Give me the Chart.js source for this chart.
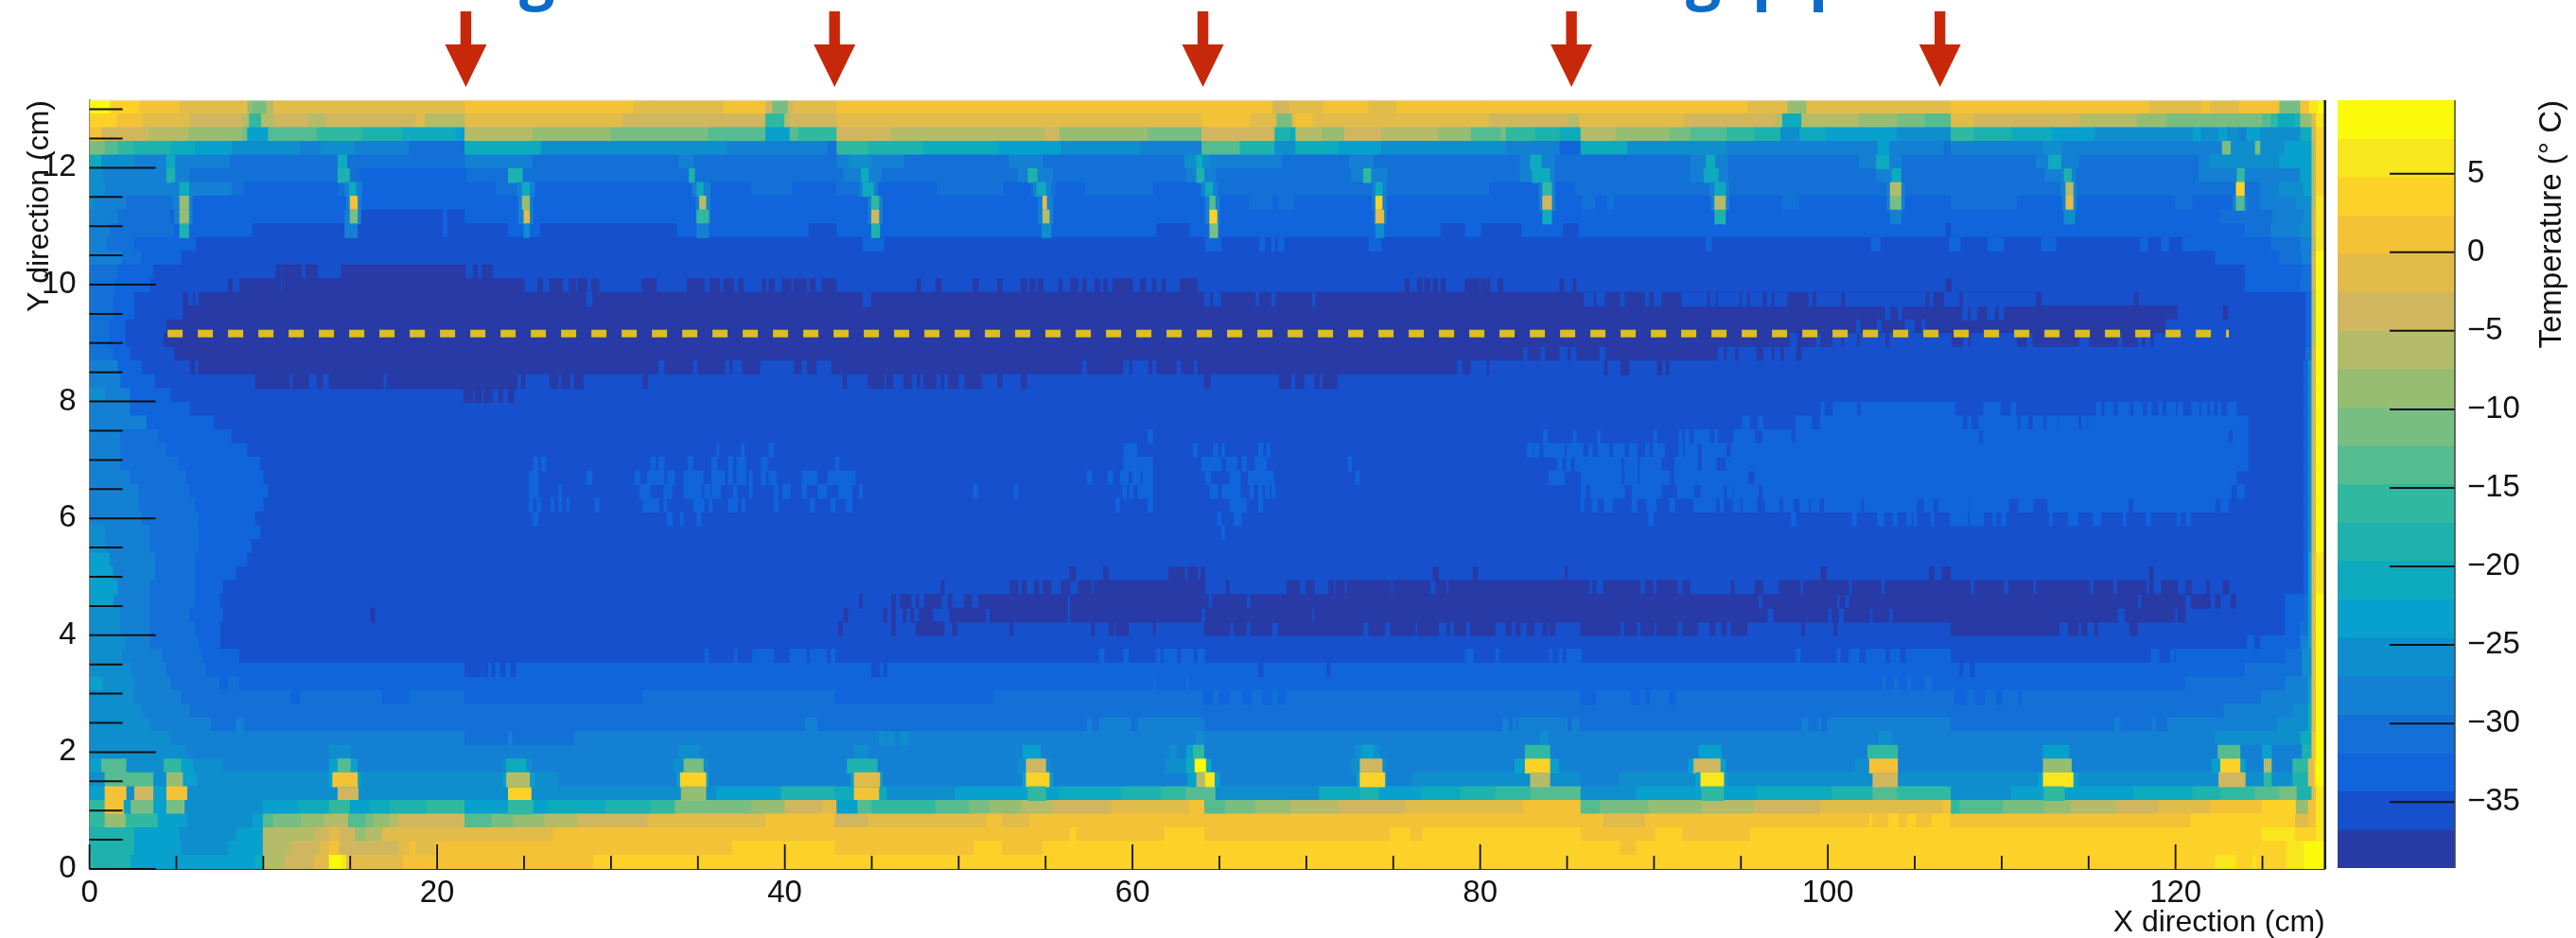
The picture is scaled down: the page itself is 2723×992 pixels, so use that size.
<!DOCTYPE html>
<html>
<head>
<meta charset="utf-8">
<title>Temperature map</title>
<script src="https://cdn.jsdelivr.net/npm/chart.js@4/dist/chart.umd.min.js"></script>
<style>
	html, body { margin: 0; background: #fff; }
	canvas { position: absolute; top: 0; filter: blur(0.7px); }
	#mapChart { left: 0; }
	#barChart { left: 2471px; }
</style>
</head>
<body>
<canvas id="mapChart" width="2723" height="992"></canvas>
<canvas id="barChart" width="252" height="992"></canvas>
<script>
// --- DONNEES --- //
const xMax = 128.6;
const yMax = 13.155;
const rowCount = 56;
const xTicks = [0,5,10,15,20,25,30,35,40,45,50,55,60,65,70,75,80,85,90,95,100,105,110,115,120,125];
const xLabels = [0,20,40,60,80,100,120];
const yTicks = [0,0.5,1,1.5,2,2.5,3,3.5,4,4.5,5,5.5,6,6.5,7,7.5,8,8.5,9,9.5,10,10.5,11,11.5,12,12.5,13];
const yLabels = [0,2,4,6,8,10,12];
const zTicks = [-35,-30,-25,-20,-15,-10,-5,0,5];
const arrowX = [21.65, 42.86, 64.05, 85.25, 106.45];
const pipeLineX = [4.49, 123.07];
const pipeLineY = 9.163;

// limites des 20 niveaux de temperature
const bandEdges = [-39.2,-36.75,-34.3,-31.87,-29.42,-26.97,-24.53,-22.08,-19.64,-17.2,-14.75,-12.3,-9.87,-7.42,-4.98,-2.53,-0.09,2.35,4.8,7.24,9.68];
const bandColors = ['#283AA5','#1650CD','#1064DC','#1270D7','#1480D4','#0E8ECD','#08A0CD','#0EAABE','#1EB2AF','#30B9A0','#55BC91','#78BE82','#96BE73','#B4BC69','#D0B75F','#E1BC4B','#F3C237','#FDD228','#F8E61E','#FAFA0A'];

// une ligne par rangee, du haut vers le bas : "x:niveau" = debut de chaque plage
const baseRows = [
"0:19 1.2:17 2.9:16 5.2:15 9.1:12 9.4:11 10.2:13 10.6:15 21.6:16 31.3:15 36.5:16 38.9:14 39.3:11 40.2:14 40.5:15 43:16 68.1:14 69:15 71:16 73.6:15 75.2:16 95.4:15 97.7:12 98.8:15 107.1:16 118.5:15 121.5:16 122:15 123.7:16 126:11 127.2:16 127.7:18 128.2:19",
"0:17 1.6:16 3.1:15 5.8:14 8.8:13 9.2:9 9.9:13 10.6:14 12.6:13 13.6:14 18.8:15 19.3:13 21.6:15 30.7:14 38.9:9 40:13 40.3:14 43:15 64:16 66.8:15 68.3:11 69.2:15 69.4:16 70.4:15 80.5:14 85.1:13 85.7:15 91.8:14 97:13 97.4:7 98.5:13 101.8:12 104:11 105.6:10 107.1:15 108.4:14 114.5:13 117.8:12 119.5:11 125:10 125.5:9 125.9:7 126.9:8 127.2:12 127.85:15 128.1:18",
"0:16 0.7:14 3.4:13 5.7:12 8.8:11 9.1:6 10.3:10 13.1:9 15.7:8 18:7 21.1:6 21.6:13 25.5:12 30:11 35.6:10 38.9:6 40.3:10 40.8:9 43:14 46.1:13 55:14 55.8:12 60.9:11 64:14 68.2:8 69.1:7 69.4:13 70.9:12 72.2:14 74.3:13 77.6:12 79.5:10 81.2:11 81.5:9 83.2:8 84.6:7 85.8:13 87.8:12 90.9:11 92.1:10 94.2:9 95.8:8 97.3:5 98.4:7 99.9:6 104:5 107.1:9 108.4:8 110.6:7 112.9:6 115.4:5 121:6 121.5:5 122.5:6 123:5 123.7:4 124.1:6 124.9:5 127.2:7 127.85:14 128.1:17",
"0:11 0.9:10 1.65:9 2.6:8 4.7:7 6.1:6 8.2:5 12.1:4 13.3:5 15.3:4 18.4:3 21.6:7 26:5 36.7:4 42.5:3 43:9 44.8:8 48:7 52.3:6 55.9:5 60.5:4 64:10 66.2:8 68.2:5 69.4:7 71.9:6 74.3:5 81.5:4 84.6:2 85.8:7 88.5:5 94.2:4 102.9:6 103.5:4 106.7:3 107.1:4 112.4:5 113.5:4 122.7:11 123.2:5 124.6:11 124.9:5 126.3:6 127.85:13 128.1:17",
"0:7 0.7:5 2.6:4 8.1:3 21.6:4 25.5:3 33.9:4 34.8:3 43:4 43.7:5 45:4 46.9:3 52.9:4 54.9:3 63:5 64.5:4 68.6:3 72.5:4 73.9:3 82.3:4 84.3:3 92.1:4 94.3:3 101.8:4 104.3:3 112:4 114.5:3 121.35:4 122:5 126:6 127.85:13 128.1:17",
"0:5 0.8:4 5.8:3 15.6:2 21.7:3 43.4:4 45.6:3 53.4:4 55.45:3 63.1:4 64.8:3 72.6:4 74.7:3 82.3:4 84.3:3 92.1:4 94.3:3 102.8:4 104.2:3 112.5:4 114.3:3 121.35:4 127.2:6 127.85:13 128.1:17",
"0:5 0.9:4 8.2:3 8.95:2 14.3:3 15.75:2 23.4:3 25.35:2 38.1:3 40.45:2 43:3 45.45:2 48.75:3 52.6:2 54.2:3 55.6:2 57.3:3 61.2:2 63.9:3 80.55:2 85.5:3 124.9:4 126:5 127.4:6 127.85:13 128.1:17",
"0:5 0.3:4 2.15:3 4.8:4 5.8:2 66.7:3 68.1:2 68.4:3 69.35:2 85.9:3 86.65:2 87.3:3 87.75:2 97.4:3 98.4:2 107.1:3 110.9:2 120:3 121:2 123.95:3 124.9:4 126.95:5 127.85:13 128.1:18",
"0:4 1.65:3 4.7:2 15.6:1 20.35:2 20.6:1 21.6:2 122.6:3 125.6:4 127.4:5 127.85:14 128.1:18",
"0:4 1.2:3 4.9:2 9.4:1 20.35:2 20.6:1 24.1:2 25.95:1 33.8:2 41.4:1 43:2 61.4:1 63.3:2 77.75:1 79.15:2 80.1:1 82.4:2 84.8:1 85.7:2 106.8:1 107.1:2 124:3 125.5:4 127.2:5 127.85:14 128.1:18",
"0:4 1:3 2.6:2 6.15:1 121:2 125.5:3 127.2:4 127.85:13 128.1:18",
"0:4 1.9:3 3:2 5.3:1 122.3:2 126:3 127.3:4 127.85:14 128.1:19",
"0:3 1.65:2 3.7:1 124:2 127.3:3 127.85:14 128.1:19",
"0:3 1.5:2 3.5:1 124:2 127.2:3 127.85:14 128.1:19",
"0:3 1.4:2 2.6:1 5.4:0 5.7:1 6:0 6.1:1 6.3:0 112:1 127.5:2 127.85:13 128.1:19",
"0:3 1.4:2 2.6:1 5.4:0 120.15:1 122.75:0 123.05:1 127.5:2 127.85:13 128.1:19",
"0:3 1.15:2 2.1:1 4.45:0 119.45:1 127.5:2 127.85:13 128.1:19",
"0:3 1.2:2 2.1:1 4.3:0 118.75:1 127.5:2 127.85:13 128.1:19",
"0:3 1.4:2 2.4:1 4.9:0 98.5:1 127.5:3 127.85:14 128.1:19",
"0:4 1.65:2 3.05:1 5.8:0 6.1:1 6.3:0 80.55:1 127.4:2 127.65:5 127.85:14 128.1:19",
"0:4 1.8:2 3.8:1 127.4:2 127.65:5 127.85:14 128.1:19",
"0:5 0.9:4 2.35:2 4.7:1 127.4:2 127.65:5 127.85:14 128.1:19",
"0:4 2.35:2 5.8:1 127.4:2 127.65:5 127.85:14 128.1:19",
"0:4 3.3:2 7.2:1 127.4:2 127.65:5 127.85:14 128.1:19",
"0:4 1.8:3 4:2 8.2:1 127.4:2 127.65:5 127.85:14 128.1:19",
"0:4 1.8:3 4.45:2 9.1:1 127.4:2 127.65:5 127.85:14 128.1:19",
"0:4 1.8:3 5.15:2 9.85:1 127.4:2 127.65:5 127.85:14 128.1:19",
"0:4 2.35:3 5.6:2 10.05:1 127.4:2 127.65:5 127.85:14 128.1:19",
"0:4 2.85:3 5.8:2 10.3:1 127.4:2 127.65:5 127.85:14 128.1:19",
"0:4 2.85:3 6.1:2 10.05:1 127.4:2 127.65:5 127.85:14 128.1:19",
"0:4 3.05:3 6.3:2 9.55:1 127.4:2 127.65:5 127.85:14 128.1:19",
"0:5 0.9:4 3.5:3 6.3:2 9.85:1 127.4:2 127.65:5 127.85:14 128.1:19",
"0:5 1:4 3.5:3 6.3:2 9.35:1 127.4:2 127.65:5 127.85:14 128.1:19",
"0:6 1.2:4 3.8:3 6.1:2 9.1:1 127.4:2 127.65:6 127.85:15 128.1:18",
"0:6 1.4:4 3.8:3 6.1:2 8.45:1 127.4:2 127.65:6 127.85:15 128.1:18",
"0:6 1.65:4 3.5:3 6.1:2 7.7:1 127.4:2 127.65:6 127.85:15 128.1:18",
"0:6 1.4:4 3.5:3 6.1:2 7.55:1 126.3:2 127.4:3 127.65:6 127.85:15 128.1:19",
"0:5 1.8:4 3.5:3 5.8:2 7.7:1 126.3:2 127.4:3 127.65:6 127.85:15 128.1:19",
"0:5 1.8:4 3.5:3 6.1:2 7.55:1 126.3:2 127.2:3 127.65:6 127.85:15 128.1:19",
"0:5 2.1:4 3.5:3 6.3:2 7.55:1 124.15:2 124.5:1 124.9:2 127.2:4 127.65:6 127.85:15 128.1:19",
"0:5 1.9:4 4.2:3 6.5:2 8.65:1 120:2 126.3:3 127.3:5 127.85:15 128.1:19",
"0:5 2.4:4 4.45:3 6.75:2 124:3 127.3:5 127.85:15 128.1:19",
"0:6 0.8:5 2.6:4 4.7:3 7.5:2 8:3 8.65:2 120.55:3 126.3:4 127.65:6 127.85:15 128.1:19",
"0:5 2.6:4 5.3:3 11.6:2 12.15:3 16.85:2 18.4:3 21.6:2 31.8:3 42.9:2 52:3 124.95:4 127.65:6 127.85:15 128.1:19",
"0:5 3:4 5.8:3 122.8:4 126.8:5 127.65:7 127.85:15 128.1:19",
"0:5 3.5:4 7:3 8.45:4 8.9:3 119.55:4 125.85:5 127.65:7 127.85:15 128.1:19",
"0:5 4.7:4 21.6:3 24.1:4 24.35:3 27.9:4 122.3:5 127.2:7 127.85:16 128.1:19",
"0:5 5.65:4 127.3:8 127.85:16 128.1:19",
"0:6 0.7:10 2.15:5 4.3:9 5.3:6 6:5 7.7:4 126.75:9 127.65:15 128:17 128.1:19",
"0:5 0.9:10 3.7:5 4.45:12 5.4:6 6.2:5 27:4 76.1:5 85.8:4 88:5 126.75:8 127.65:15 128:17 128.1:19",
"0:6 0.9:16 2.15:5 2.6:14 3.7:6 4.45:16 5.65:5 14.3:14 15.5:5 24.1:17 25.45:5 36.1:6 39.8:8 42.9:7 44:16 45.45:7 45.9:5 49.8:6 55.8:7 59.35:8 61.65:9 63.1:10 64.8:5 70.75:7 73.1:8 74.2:6 76.6:7 78.9:8 80.9:9 82.9:10 85.8:5 89:6 95.9:7 100.25:8 102.6:10 104:9 107.1:5 110.55:6 117.6:7 121:8 122.6:9 124.6:10 126:11 127:8 127.85:15 128.1:18",
"0:9 0.9:16 2:6 2.4:11 3.7:6 4.45:11 5.5:5 10:6 12:7 13.8:9 15:6 16.1:7 17.3:8 19.4:9 21.6:6 26.4:7 29.7:8 32.3:9 33.7:11 38.1:12 40:14 42.2:15 43:6 44.2:10 45:9 48.7:10 50.6:11 51.8:12 53.6:13 55.45:14 58.8:15 63.3:16 64.15:10 65.35:11 67.1:12 69.1:13 71.9:14 75.7:15 82.5:16 85.8:10 86.9:11 89.7:12 92.75:13 95.8:14 99.6:15 106.65:16 107.1:9 107.6:10 110.1:11 112.45:12 114:13 116.65:14 119.05:15 122:16 125:17 126.95:12 127.65:16 128.1:18",
"0:9 0.9:12 2.1:9 3.95:6 5.65:5 9.4:6 10:10 10.6:11 12.2:12 13.55:13 14.9:10 15.9:11 16.4:12 17.3:13 17.8:14 21.6:10 23.15:11 24.4:12 26.2:13 28.1:14 32.15:15 38.9:16 42.9:14 44.8:15 51.6:16 52.5:15 54.1:16 87.1:15 89.5:16 102.4:17 102.6:16 103.5:17 104.1:16 104.6:17 105.1:16 106:17 107.05:16 120.9:17 126.9:15 127.65:16 128.1:18",
"0:8 2.6:6 5.2:5 8.45:6 10:13 13:14 13.8:15 14.4:14 15.3:12 15.9:13 16.85:15 26.7:16 56.4:17 56.8:16 61.85:17 64.15:16 74.85:17 76:16 76.7:17 85.8:16 90.1:17 91.65:16 95.55:17 125:18 126.9:17 128.1:18",
"0:8 2.6:6 5.3:5 8:6 10:13 11.6:14 13.3:15 13.8:16 14.4:14 17.8:15 18.4:16 18.8:15 19.9:16 37:17 42.9:16 50.9:17 52.5:16 54.85:17 88.05:16 89:17 126.4:18 127.4:19",
"0:9 0.2:8 2.4:6 9.55:7 10:13 11.25:14 12.95:15 13.8:19 14.5:18 14.8:15 18.05:16 29:17 122.3:18 123.5:17 124.45:18 124.65:17 126.4:18 127.4:19"
];

// plages fines posees par dessus : [rangee, niveau, "debut-fin ..."]
const bandZeroStripes = [
[12,0,"10.75-11 11.1-11.65 11.6-12.2 12.45-13.1 14.5-21.6 22.1-22.3 22.6-22.8 22.9-23.15"],
[13,0,"8-8.2 8.65-11 11.1-25 25.8-26.05 26.5-27.2 27.6-27.95 28.1-28.6 28.9-29.3 31.8-32.6 34.4-35.35 35.7-36.25 36.5-37.05 37.35-37.6 38.7-38.9 39.1-39.4 39.85-40.35 40.5-41.25 41.45-41.75 42.15-42.95 47.6-47.8 48.7-49 50.85-51.1 52.25-52.5 53.6-53.9 54.1-54.4 54.55-54.85 55.75-55.95 56.45-56.85 57.15-57.35 57.85-58.1 58.35-58.55 58.85-60 60.45-60.75 61.15-61.35 61.7-61.9 62.75-63.7 75.7-75.9 76.4-76.65 76.8-77.1 77.3-77.55 77.75-78 79.15-79.95 80.05-80.55 81.05-81.3 84.6-84.8 85.35-85.5 106.8-107.1"],
[14,1,"28.6-28.9 44.5-44.95 64.15-64.45 64.65-65.05 67.1-67.25 68-68.2 70.35-70.5 86-86.5 86.7-87.15 88.05-88.3 89.5-89.7 90-90.4 91.6-93.05 93.25-93.55 93.7-94.9 95.05-95.35 95.55-96.25 96.5-96.75 96.95-97.65 98.9-99.1 99.35-100.75 101-105.6 105.85-106.05 106.7-107.55 107.8-112"],
[14,0,"112-112.25 117.65-117.85"],
[15,1,"103.3-103.55 104.05-104.25 107.75-108.05 108.25-108.6 109.2-109.6 109.85-110.1"],
[16,1,"101.65-101.85 102.85-103.05 104.45-104.95 105.4-105.6"],
[17,1,"97.85-98.2 99.35-99.55 100.3-100.75 100.95-101.65 101.85-103.3 103.55-107.1 107.8-108.05 108.25-110.85 111.45-111.75 114.5-115 116.7-116.9 117.85-118.05 118.3-118.55"],
[18,1,"82.5-82.7 83.5-83.7 84.6-85 85.25-85.5 86.9-87.2 93.7-94 94.2-94.65 94.9-95.85 96.3-96.75 96.95-97.25 97.5-98.15"],
[19,1,"32.75-33.05 34.75-34.95 36.6-36.8 37-37.5 38.6-40.5 41-41.25 41.85-42.65 57.15-57.35 59.5-59.8 60-60.9 61.15-61.35 62.55-62.75 63.55-63.7 78.7-78.95 79.45-80.35"],
[19,0,"87.15-87.3 88.1-88.55 90.2-90.45 90.7-90.85"],
[20,0,"9.55-11.5 11.7-12.6 13.1-13.4 13.8-16.9 17.1-24.6 24.85-25.05 26.5-26.95 27.15-27.6 27.9-28.4 31.85-32.1 43.35-43.55 44.8-45.7 45.85-46.2 46.85-47.3 47.6-47.75 48-48.7 49-49.15 49.4-49.95 50.35-51.3 52.25-52.5 53.6-53.9 64.15-64.45 68.45-69.1 69.4-69.85 70.5-70.75 70.95-71.75"],
[21,0,"21.55-22.05 22.2-22.55 22.7-23.15 23.55-23.75 24.1-24.4"],
[34,0,"56.4-56.7 58.35-58.6 62.1-63 63.2-63.75 63.95-64.15 77.3-77.6 79.6-79.85 84.9-85 99.6-99.9 105.85-106.1 106.6-107.05 118.5-118.7"],
[35,0,"49-49.15 52.95-53.4 53.65-53.9 54.35-54.6 54.85-55.3 55.9-56.4 56.9-57.65 57.8-64.15 65.4-65.55 68.9-69.6 70-70.45 71.3-71.55 71.7-72.2 72.35-74.85 75-77.1 77.45-78.05 78.2-86.25 86.5-86.65 87.1-89.2 89.5-89.95 90.15-91.35 91.65-92.05 94.45-94.6 95.8-96.25 97.2-98.4 98.6-101.2 101.4-103.05 103.3-108.2 108.45-110.1 110.4-111.8 112-115.05 115.3-116.4 116.65-118.3 118.5-118.7 119.2-120.1 120.6-120.9 121.8-121.95 122.75-123.05"],
[36,0,"44.3-44.45 46.15-46.35 46.65-47.25 47.55-47.7 48.05-49 49.4-49.6 50.35-50.75 51.15-56.25 56.45-64.35 64.6-66.55 66.8-96 96.25-100.5 100.7-100.95 101.25-117.8 118.05-120.55 120.9-122 122.3-122.55 123.2-123.45"],
[37,0,"16.2-16.4 43.4-43.6 45.7-45.85 46.15-46.35 46.8-46.95 47.25-47.4 47.75-48.5 49.5-51.55 51.8-56.25 56.45-63.95 64.2-70.3 70.45-96.5 96.9-100 100.25-100.6 100.95-102.4 102.6-103.5 103.75-116.65 117.1-119.95 120.15-120.55"],
[38,0,"43.1-43.3 46.15-46.35 47.55-49.15 49.65-49.9 52.95-53.1 57.65-57.8 58.65-58.9 59.05-59.75 61.2-61.3 64.15-65.6 65.85-66.55 66.8-68 68.4-73.25 73.6-74.5 74.85-76.25 76.4-77.6 78.1-78.25 78.5-79.15 79.45-80.85 81.5-81.8 82.05-82.3 82.7-83.1 83.6-83.85 84-84.3 85.8-88.05 88.3-89 89.25-90 90.15-91.35 91.65-92.5 93.2-93.5 93.9-94.15 94.45-95.35 98.5-98.65 100.35-100.5 107.1-113.3 113.85-114.4 114.6-114.9 115.35-115.5 117.4-117.8"]
];

const lightStripes = [
[10,2,"44.5-45.7 64.2-65.1 67.3-67.6 68-68.2 68.4-68.7 73.6-74.3 93-93.3 102.5-103 107-107.6 109.2-110.1 112.3-113.1 118-118.4 119.2-119.6 120.4-121"],
[23,2,"95.1-95.5 96-96.25 98.15-99.05 99.55-107.75 108.05-108.25 108.7-110.9 111.1-111.5 111.8-112.4 112.6-113.2 113.3-114.4 114.6-114.9 115-124.15"],
[22,2,"99.6-99.8 100.3-101.65 101.9-107.3 108.95-109.9 110.55-110.8 115.45-115.7 115.95-116.4 116.7-117.35 117.6-118.1 118.4-118.6 119.05-119.2 119.5-120 120.15-120.4 120.95-121.35 121.5-121.8 122-122.2 122.45-122.6 123-123.5"],
[24,2,"60.9-61.15 83.65-83.85 85.35-85.5 86.75-86.9 90-90.15 91.45-91.6 91.8-92 92.3-93.2 93.5-93.65 94.6-95.8 96.25-97.9 98.15-108.7 108.95-123.05 123.3-124.15"],
[25,2,"36.1-36.2 37.5-37.65 39.1-39.35 59.5-60.25 63.5-63.7 64.65-64.9 65.15-65.3 67.25-67.5 67.75-67.9 82.7-83 83.1-83.4 83.65-84.85 85-85.9 86.25-86.45 86.8-87.4 87.65-88.3 88.6-89 89.5-89.7 89.95-90.6 91.45-91.65 91.8-92.5 92.75-94.15 94.45-124.15"],
[26,2,"25.55-25.8 26-26.25 32.3-32.55 32.75-33.05 34.45-34.7 35.8-36.1 36.75-37 37.25-37.75 38.65-39 42.95-43.1 59.5-61.15 64-65.1 65.4-66 66.3-66.55 67.05-67.7 72.4-72.6 84.45-84.7 84.95-85.2 85.45-88.1 88.3-89.05 89.2-90.4 91.2-92.5 92.75-93.6 94.15-124.15"],
[27,2,"25.3-25.8 28.6-28.9 31.4-31.65 32.1-33.05 33.25-33.65 34.2-35.3 35.8-36.55 36.75-37 37.25-37.75 37.95-38.1 38.65-38.9 39.1-39.5 41-41.85 42.5-44.05 57.4-57.65 58.6-58.85 59.3-59.75 60-60.45 60.6-61.15 64.2-64.5 65.6-66.2 66.65-68.1 72.85-73.05 83.95-84.85 85.8-88.1 88.3-89.05 89.2-90.9 91.2-95.4 95.8-123.5"],
[28,2,"25.3-25.8 27-27.15 31.65-32.25 33.05-33.5 34.2-35.2 35.4-35.7 35.8-36.3 37.05-37.25 37.95-38.1 39.4-39.6 39.9-40.3 41-41.25 41.9-42.4 43.1-43.85 44.3-44.45 50.85-51.1 53.2-53.4 59.45-59.65 59.85-60 60.3-61.15 64.45-64.9 65.15-66.2 66.75-66.95 67.25-67.45 67.65-67.85 68-68.2 85.8-86.05 86.35-88.3 88.75-90.4 91.35-92.3 92.7-94 94.2-94.5 94.6-96 96.25-123.2 123.55-123.95"],
[29,2,"25.3-25.5 25.75-25.95 26.55-26.7 27-27.15 27.45-27.6 29.1-29.3 31.85-32.75 33.05-33.2 34.75-35.35 35.65-35.8 36.75-37.25 37.55-37.7 39.4-39.6 41.45-41.7 42.65-42.9 43.55-43.85 59.05-59.25 60.9-61.15 65.6-66.55 67.25-67.5 85.8-85.95 86.45-86.75 87.15-87.6 88.75-89 89.6-90.1 90.9-91.2 92.3-93.55 93.8-94 94.55-94.95 95.1-95.9 96.4-97.2 97.45-98 98.4-98.9 99.05-99.5 99.8-101.9 102.1-105.1 105.55-106.05 106.35-108.1 108.2-110.4 111-111.8 112.65-117.3 117.6-122.3 122.6-123.05"],
[30,2,"25.5-25.8 33.25-33.5 34-34.15 34.95-35.15 64.9-65.1 65.85-66.25 89.7-89.95 97.9-98.15 101.4-101.65 102.85-103.2 103.75-104 104.55-104.8 104.95-105.1 105.95-106.1 107.05-108.05 108.2-108.95 109.5-109.65 110-110.25 112.75-112.9 113.85-114.4 115.25-115.7 117-117.15 118.3-118.55 120.1-120.25 120.6-120.85"],
[31,2,"65.15-65.3"],
[39,2,"124.15-124.5"],
[40,2,"35.4-35.6 37.1-37.25 38.15-39.35 40.3-41.25 41.45-42.4 42.65-42.9 58.1-58.35 59.5-59.75 61.4-61.6 61.8-62.55 62.8-63.5 63.75-64.15 79.15-79.6 80.9-81.05 84-84.1 84.55-84.7 85-85.8 98.2-98.4 100.55-100.7 101.25-101.8 102.2-103.3 103.6-104.15 104.5-107.05 118.6-119.05 119.7-119.9"],
[41,1,"21.6-22.55 22.65-22.9 23.15-23.3 23.65-23.9 24.25-24.5 45-45.45 45.7-45.85 67.25-67.5 71.2-71.35 107.6-107.75 108.2-108.4"],
[42,3,"61.2-61.3 63.1-63.2 103.15-103.35 103.8-104 104.6-104.75 105.6-106"],
[43,2,"64.1-64.6 65-65.6 66.3-66.8 67.5-68 68.4-68.8 85.8-86.65 88.7-89.2 89.5-89.75 90.9-91.2 107.3-108 108.5-109 109.7-110 111-111.1"],
[45,4,"41.2-41.85 57.4-57.65 58.1-59.9 60.3-64.1 81.3-81.6 81.9-82.05 82.2-85 85.3-85.7 98.5-98.85 99.45-99.6 100-107.05 116.5-116.8 118.7-118.85"],
[46,5,"45.45-45.75 45.9-46.3 46.7-47.1 63.7-64.1 83.5-83.85 102.9-103.7"]
];

const topSpots = [
[4,7,"4.45-4.9 14.3-14.8 63.7-64 82.9-83.5 93-93.5 102.8-103.5 112.7-113.4"],
[3,6,"102.9-103.5"],
[5,8,"4.45-4.9 14.3-14.95 24.1-24.9 34.5-34.8 54-54.5 63.7-64.1 113.6-114"],
[5,7,"44.4-44.8 83-84 92.9-93.7 103.7-104.2"],
[5,9,"73.3-73.7 123.55-123.95"],
[6,4,"4.7-5.9 14.7-15.6 24.6-25.6 34.7-35.7 44.3-45.3 54.3-55.3 64-64.9 73.8-74.6 83.4-84.3 93.2-94.3 103.4-104.4 113.4-114.3"],
[6,7,"5.2-5.7 14.95-15.3 24.9-25.3 34.95-35.3 44.5-45.1 54.5-55 64.2-64.6 74-74.35"],
[6,9,"83.6-84.1"],[6,7,"93.5-94.1"],[6,13,"103.6-104.2 113.7-114.1"],[6,17,"123.5-123.95"],
[7,4,"4.9-5.9 14.8-15.6 24.7-25.5 34.9-35.7 44.8-45.6 54.6-55.4 64.2-65 73.8-74.6 83.4-84.3 93.3-94.3 103.4-104.4 113.5-114.3 123.3-124.1"],
[7,12,"5.2-5.7"],[7,16,"15-15.4"],[7,12,"24.9-25.3"],[7,13,"35.1-35.45"],[7,9,"45-45.4"],[7,15,"54.85-55.05"],[7,10,"64.45-64.75"],[7,17,"74-74.35"],[7,14,"83.6-84.1"],[7,13,"93.5-94.1"],[7,11,"103.6-104.2"],[7,15,"113.7-114.1"],[7,10,"123.5-123.95"],
[8,4,"4.9-5.9 14.7-15.6 24.7-25.5 34.9-35.7 44.8-45.6 54.6-55.4 64.2-65 73.9-74.6"],
[8,12,"5.2-5.7"],[8,11,"15-15.4"],[8,15,"25-25.3"],[8,9,"34.95-35.6"],[8,14,"45-45.4"],[8,13,"54.85-55.2"],[8,17,"64.45-64.85"],[8,15,"74-74.45"],[8,7,"83.6-84.1"],[8,8,"93.5-94.1"],[8,4,"103.6-104.2"],[8,5,"113.6-114.2"],
[9,8,"5.2-5.7"],[9,4,"14.7-15.4 34.95-35.6"],[9,5,"25-25.3 54.8-55.3 74-74.45"],[9,8,"45-45.45"],[9,11,"64.45-64.9"]
];

const bottomSpots = [
[47,5,"13.8-15 33.9-35.1 44-44.75 62.15-62.5 72.8-74.2"],
[47,6,"53.7-54.7 63.1-64.1 73.2-73.9 92.6-93.85 112.4-113.85 125-125.5"],
[47,9,"63.5-64.1 82.6-84 102.3-104"],
[47,10,"122.45-123.7"],
[48,6,"13.8-15.4 82-84.5 92-94.1 122.1-124"],
[48,5,"23.8-25.4 33.6-35.6 53.4-55.3 61.9-63.1 72.6-74.6 101.6-102.3"],
[48,10,"14.3-15"],[48,7,"24-25.1 63.1-64.5"],[48,11,"34.2-35.3"],[48,8,"43.6-45.3"],[48,14,"53.9-55 73.1-74.35 92.3-93.8"],[48,19,"63.6-64.2"],[48,17,"82.6-84 122.6-123.7"],[48,16,"102.4-104"],[48,12,"112.4-114"],[48,13,"125.1-125.5"],
[49,6,"13.8-15.6 23.8-25.6 33.8-35.6 43.8-45.6 53.7-55.4 63.2-65 72.9-74.6 92.4-94.2 112.1-114.4"],
[49,16,"14-15.4"],[49,13,"24-25.3 63.7-64.2 82.9-84"],[49,17,"34-35.45 53.9-55.2 73.1-74.5"],[49,15,"44-45.45"],[49,18,"64.2-64.7 92.7-94 112.4-114.1"],[49,14,"102.6-104 122.5-124"],[49,9,"125.1-125.5"],
[50,12,"34.05-35.45"],[50,9,"54-55 92.75-94 112.45-113.6"],
[51,9,"24.1-25.5"]
];

// --- CONSTRUCTION DES BARRES --- //
const rowHeight = yMax / rowCount;
const rowCenter = r => yMax - (r + 0.5) * rowHeight;
const cells = [];

baseRows.forEach((line, r) => {
	const runs = line.split(' ').map(t => t.split(':').map(Number));
	runs.forEach(([from, band], i) => {
		const to = i + 1 < runs.length ? runs[i + 1][0] : xMax;
		cells.push({ x: [from, to], y: rowCenter(r), band });
	});
});

[...bandZeroStripes, ...lightStripes, ...topSpots, ...bottomSpots].forEach(([r, band, spans]) => {
	spans.split(' ').forEach(s => {
		const [from, to] = s.split('-').map(Number);
		cells.push({ x: [from, to], y: rowCenter(r), band });
	});
});

const bandBars = bandColors.map((c, i) => ({ x: 0.5, y: [bandEdges[i], bandEdges[i + 1]] }));

// --- FONCTIONS GRAPHIQUES --- //
const FONT = '"Liberation Sans", Arial, sans-serif';
const INK = '#111';

function tickLine(ctx, x1, y1, x2, y2, width, color) {
	ctx.strokeStyle = color || INK;
	ctx.lineWidth = width;
	ctx.beginPath();
	ctx.moveTo(x1, y1);
	ctx.lineTo(x2, y2);
	ctx.stroke();
}

// Graduations rentrantes (longueur differente majeure / mineure)
const mapFrame = {
	id: 'mapFrame',
	afterDatasetsDraw(chart) {
		const { ctx, chartArea: a, scales: { x, y } } = chart;
		ctx.save();
		xTicks.forEach(v => {
			const px = x.getPixelForValue(v);
			tickLine(ctx, px, a.bottom, px, a.bottom - (xLabels.includes(v) ? 26 : 14), 1.8);
		});
		yTicks.forEach(v => {
			const py = y.getPixelForValue(v);
			tickLine(ctx, a.left, py, a.left + (yLabels.includes(v) ? 70 : 35), py, 2);
		});
		tickLine(ctx, a.left, a.top, a.right, a.top, 1, '#E6E6E6');
		tickLine(ctx, a.right, a.top, a.right, a.bottom, 2.5, '#111');
		ctx.restore();
	},
	afterDraw(chart) {
		const { ctx, scales: { x } } = chart;
		ctx.save();
		// Fleches rouges au dessus du graphique
		ctx.fillStyle = '#C8280A';
		arrowX.forEach(v => {
			const px = x.getPixelForValue(v);
			ctx.beginPath();
			ctx.moveTo(px - 5.7, 12);
			ctx.lineTo(px + 5.7, 12);
			ctx.lineTo(px + 5.7, 47);
			ctx.lineTo(px + 22, 47);
			ctx.lineTo(px, 92);
			ctx.lineTo(px - 22, 47);
			ctx.lineTo(px - 5.7, 47);
			ctx.closePath();
			ctx.fill();
		});
		// Titre bleu coupe par le bord du haut : seuls les jambages restent visibles
		ctx.fillStyle = '#0B6BC8';
		ctx.font = 'bold 66px "Open Sans", sans-serif';
		ctx.textBaseline = 'alphabetic';
		ctx.fillText('g', 549, -3);
		ctx.fillText('g', 1782, -3);
		ctx.fillText('p', 1852, -3);
		ctx.fillText('p', 1912, -3);
		ctx.restore();
	}
};

const barFrame = {
	id: 'barFrame',
	afterDatasetsDraw(chart) {
		const { ctx, chartArea: a, scales: { y } } = chart;
		ctx.save();
		zTicks.forEach(v => {
			const py = y.getPixelForValue(v);
			tickLine(ctx, a.right - 69, py, a.right, py, 2);
		});
		tickLine(ctx, a.right, a.top, a.right, a.bottom, 1.5, '#444');
		// Titre de l'echelle, lu de bas en haut
		ctx.translate(a.right + 103, a.top);
		ctx.rotate(-Math.PI / 2);
		ctx.fillStyle = INK;
		ctx.font = '33px ' + FONT;
		ctx.textAlign = 'right';
		ctx.textBaseline = 'middle';
		ctx.fillText('Temperature (\u00B0 C)', 0, 0);
		ctx.restore();
	}
};

const initCharts = () => {
	// Carte de temperature
	new Chart(document.getElementById('mapChart'), {
		type: 'bar',
		data: {
			datasets: [
				{
					type: 'line',
					data: pipeLineX.map(x => ({ x, y: pipeLineY })),
					borderColor: '#DFBD1F',
					borderWidth: 8,
					borderDash: [16, 16],
					borderCapStyle: 'butt',
					pointRadius: 0,
					order: 0
				},
				{
					type: 'bar',
					indexAxis: 'y',
					data: cells,
					backgroundColor: cells.map(c => bandColors[c.band]),
					barThickness: 14.52,
					borderWidth: 0,
					inflateAmount: 0.5,
					order: 1
				}
			]
		},
		options: {
			responsive: false,
			animation: false,
			events: [],
			layout: { padding: { top: 106, right: 265.3 } },
			plugins: { legend: false, tooltip: false },
			scales: {
				x: {
					type: 'linear',
					offset: false,
					min: 0,
					max: xMax,
					afterBuildTicks: s => { s.ticks = xTicks.map(value => ({ value })); },
					afterFit: s => { s.height = 73; },
					grid: { offset: false, drawOnChartArea: false, drawTicks: false },
					border: { color: '#333', width: 2 },
					ticks: {
						autoSkip: false,
						maxRotation: 0,
						padding: 6,
						color: INK,
						font: { family: FONT, size: 33 },
						callback: v => (xLabels.includes(v) ? String(v) : '')
					},
					title: {
						display: true,
						text: 'X direction (cm)',
						align: 'end',
						color: INK,
						font: { family: FONT, size: 32, lineHeight: 1 },
						padding: { top: 0, bottom: 0 }
					}
				},
				y: {
					type: 'linear',
					offset: false,
					min: 0,
					max: yMax,
					afterBuildTicks: s => { s.ticks = yTicks.map(value => ({ value })); },
					afterFit: s => { s.width = 94.6; },
					grid: { offset: false, drawOnChartArea: false, drawTicks: false },
					border: { color: '#777', width: 2 },
					ticks: {
						autoSkip: false,
						padding: 14,
						color: INK,
						font: { family: FONT, size: 33 },
						callback: v => (yLabels.includes(v) ? String(v) : '')
					},
					title: {
						display: true,
						text: 'Y direction (cm)',
						align: 'end',
						color: INK,
						font: { family: FONT, size: 32, lineHeight: 1 },
						padding: { top: 26, bottom: 0 }
					}
				}
			}
		},
		plugins: [mapFrame]
	});

	// Echelle de couleur
	new Chart(document.getElementById('barChart'), {
		type: 'bar',
		data: {
			datasets: [{
				data: bandBars,
				backgroundColor: bandColors,
				barThickness: 124,
				borderWidth: 0,
				inflateAmount: 0.5
			}]
		},
		options: {
			responsive: false,
			animation: false,
			events: [],
			layout: { padding: { top: 106, bottom: 74 } },
			plugins: { legend: false, tooltip: false },
			scales: {
				x: { type: 'linear', offset: false, min: 0, max: 1, display: false },
				y: {
					type: 'linear',
					position: 'right',
					min: bandEdges[0],
					max: bandEdges[bandEdges.length - 1],
					afterBuildTicks: s => { s.ticks = zTicks.map(value => ({ value })); },
					afterFit: s => { s.width = 128; },
					grid: { drawOnChartArea: false, drawTicks: false },
					border: { display: false },
					ticks: {
						autoSkip: false,
						padding: 13,
						color: INK,
						font: { family: FONT, size: 33 },
						callback: v => (v < 0 ? '\u2212' + Math.abs(v) : String(v))
					}
				}
			}
		},
		plugins: [barFrame]
	});
};

initCharts();
</script>
</body>
</html>
